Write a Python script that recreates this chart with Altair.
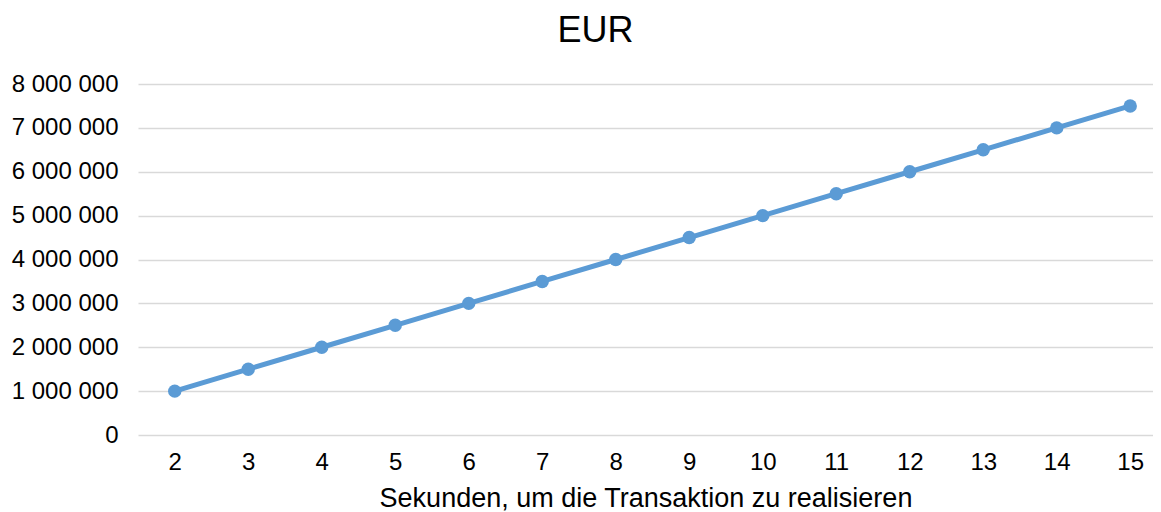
import altair as alt
import pandas as pd

seconds = [2, 3, 4, 5, 6, 7, 8, 9, 10, 11, 12, 13, 14, 15]
eur = [1000000, 1500000, 2000000, 2500000, 3000000, 3500000, 4000000,
       4500000, 5000000, 5500000, 6000000, 6500000, 7000000, 7500000]
y_ticks = [0, 1000000, 2000000, 3000000, 4000000, 5000000, 6000000, 7000000, 8000000]

df = pd.DataFrame({"sec": seconds, "eur": eur})

FONT = "Liberation Sans"
BLUE = "#5B9BD5"

label_expr = "replace(format(datum.value, ',d'), /,/g, ' ')"

x = alt.X("sec:Q",
          scale=alt.Scale(domain=[1.5, 15.31], nice=False, zero=False),
          axis=alt.Axis(values=seconds, title="Sekunden, um die Transaktion zu realisieren",
                        grid=False, domain=False, ticks=False, tickSize=0,
                        labelFontSize=24, labelPadding=15, labelColor="#000000",
                        labelFont=FONT, titleFont=FONT, titleFontSize=27,
                        titleFontWeight="normal", titleColor="#000000", titlePadding=11,
                        labelFlush=False, labelOverlap=False))
y = alt.Y("eur:Q",
          scale=alt.Scale(domain=[0, 8000000], nice=False),
          axis=alt.Axis(values=y_ticks, title=None, labelExpr=label_expr,
                        domain=False, ticks=False, tickSize=0,
                        gridColor="#D9D9D9", gridWidth=1.5,
                        labelFontSize=24, labelPadding=20, labelColor="#000000",
                        labelFont=FONT))

line = alt.Chart(df).mark_line(color=BLUE, strokeWidth=5).encode(x=x, y=y)
pts = alt.Chart(df).mark_point(color=BLUE, filled=True, opacity=1, size=180).encode(x=x, y=y)

chart = (line + pts).properties(
    width=1015, height=351,
    title=alt.TitleParams("EUR", font=FONT, fontSize=36, fontWeight="normal",
                          color="#000000", anchor="middle", dx=-50, offset=22),
    autosize=alt.AutoSizeParams(type="none"),
    padding={"left": 130, "top": 76, "right": 0, "bottom": 77},
).configure_view(stroke=None)

chart.save("out.html", embed_options={"renderer": "svg", "actions": False})
